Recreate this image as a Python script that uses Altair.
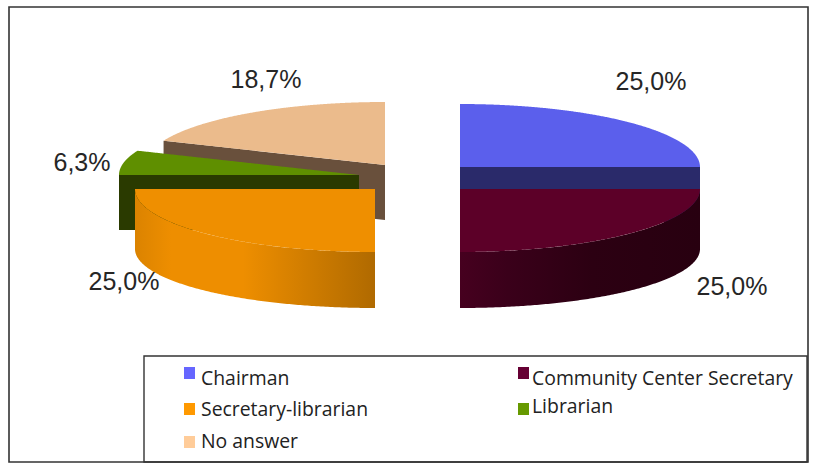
import numpy as np
import pandas as pd
import altair as alt

# Survey shares, clockwise from twelve o'clock
categories = ["Chairman", "Community Center Secretary", "Secretary-librarian", "Librarian", "No answer"]
shares = [25.0, 25.0, 25.0, 6.3, 18.7]
share_labels = ["25,0%", "25,0%", "25,0%", "6,3%", "18,7%"]
top_colors = ["#5B5FEC", "#5C0028", "#EF8F00", "#5F8F00", "#EBBB8C"]
cut_colors = ["#2A2A6A", "#3A001A", "#B06A00", "#2A3A00", "#69503C"]
swatch_colors = ["#6666FF", "#660033", "#FF9900", "#669900", "#FFCC99"]

# Exploded slice apex in chart pixels, ellipse radii and extrusion
apex_x = [460, 460, 375, 359, 385]
apex_y = [167, 189, 189, 175, 165]
radius_x, radius_y = 240, 63
base_radius_y, base_drop, cut_depth = 59, 60, 55

label_x = [651, 732, 124, 82, 266]
label_y = [82, 287, 282, 163, 80]
legend_x = [184, 518, 184, 518, 184]
legend_y = [373, 373, 409, 409, 442]
legend_text_y = [379, 379, 410, 407, 442]

edges = np.concatenate([[0], np.cumsum(shares)]) / 100 * 2 * np.pi

X = alt.X("x:Q", scale=alt.Scale(domain=[0, 833], nice=False), axis=None)
Y = alt.Y("y:Q", scale=alt.Scale(domain=[476, 0], nice=False), axis=None)


def rim(i, t):
    return apex_x[i] + radius_x * np.sin(t), apex_y[i] - radius_y * np.cos(t)


def span_frame(vx, vy):
    """Upper and lower envelope of a closed convex outline, sampled along x."""
    xs = np.unique(np.concatenate([vx, np.linspace(min(vx), max(vx), 240)]))
    tops, bottoms = [], []
    for x in xs:
        hits = []
        for k in range(len(vx)):
            x0, y0, x1, y1 = vx[k], vy[k], vx[(k + 1) % len(vx)], vy[(k + 1) % len(vx)]
            if min(x0, x1) - 1e-9 <= x <= max(x0, x1) + 1e-9:
                if abs(x1 - x0) < 1e-9:
                    hits += [y0, y1]
                else:
                    hits.append(y0 + (y1 - y0) * (x - x0) / (x1 - x0))
        tops.append(min(hits))
        bottoms.append(max(hits))
    return pd.DataFrame({"x": xs, "y": tops, "y2": bottoms})


def area(frame, color):
    return alt.Chart(frame).mark_area(color=color, opacity=1).encode(X, Y, y2="y2:Q")


def top_face(i):
    t = np.linspace(edges[i], edges[i + 1], 120)
    rx, ry = rim(i, t)
    vx = np.concatenate([[apex_x[i]], rx])
    vy = np.concatenate([[apex_y[i]], ry])
    return area(span_frame(vx, vy), top_colors[i])


def outer_wall(i, color):
    t = np.linspace(edges[i], edges[i + 1], 160)
    rx, ry = rim(i, t)
    base = apex_y[i] + base_drop - base_radius_y * np.cos(t)
    frame = pd.DataFrame({"x": rx, "y": ry, "y2": base}).sort_values("x")
    return area(frame, color)


def cut_wall(i, angle):
    rx, ry = rim(i, angle)
    frame = pd.DataFrame({
        "x": [rx, apex_x[i]] if rx < apex_x[i] else [apex_x[i], rx],
        "y": [ry, apex_y[i]] if rx < apex_x[i] else [apex_y[i], ry],
    })
    frame["y2"] = frame["y"] + cut_depth
    return area(frame, cut_colors[i])


def ramp(stops):
    return alt.Gradient(
        gradient="linear",
        stops=[alt.GradientStop(color=c, offset=o) for c, o in stops],
        x1=0, x2=1, y1=0, y2=0,
    )


frame_box = pd.DataFrame({"x": [9], "x2": [808], "y": [7], "y2": [462]})
legend_box = pd.DataFrame({"x": [144], "x2": [807], "y": [356], "y2": [462]})


def box(frame, width):
    return alt.Chart(frame).mark_rect(fillOpacity=0, stroke="#333333", strokeWidth=width).encode(
        X, Y, x2="x2:Q", y2="y2:Q"
    )


labels = pd.DataFrame({"x": label_x, "y": label_y, "text": share_labels})
legend = pd.DataFrame({
    "x": legend_x, "y": legend_y, "text_y": legend_text_y, "name": categories, "color": swatch_colors,
})
legend["text_x"] = [v + (17 if v < 300 else 14) for v in legend_x]
legend["x0"], legend["x1"] = legend["x"], legend["x"] + 11
legend["y0"], legend["y1"] = legend["y"] - 6, legend["y"] + 6

orange_ramp = ramp([("#DB8300", 0), ("#EE8E00", 0.15), ("#EE8E00", 0.45), ("#B06A00", 1)])
maroon_ramp = ramp([("#46001F", 0), ("#3A001A", 0.2), ("#2C0012", 0.55), ("#280010", 1)])

layers = [
    box(frame_box, 1.6),
    # back slices first, front slices over them
    cut_wall(4, edges[4]),
    top_face(4),
    cut_wall(3, edges[3]),
    top_face(3),
    outer_wall(2, orange_ramp),
    top_face(2),
    cut_wall(0, edges[1]),
    top_face(0),
    outer_wall(1, maroon_ramp),
    top_face(1),
    alt.Chart(labels).mark_text(font="Liberation Sans", fontSize=25, color="#262626").encode(X, Y, text="text:N"),
    box(legend_box, 1.4),
    alt.Chart(legend).mark_rect().encode(
        alt.X("x0:Q", scale=alt.Scale(domain=[0, 833], nice=False), axis=None),
        alt.Y("y0:Q", scale=alt.Scale(domain=[476, 0], nice=False), axis=None),
        x2="x1:Q",
        y2="y1:Q",
        color=alt.Color("color:N", scale=None),
    ),
    alt.Chart(legend).mark_text(font="Open Sans", fontSize=19.4, align="left", color="#222222").encode(
        alt.X("text_x:Q", scale=alt.Scale(domain=[0, 833], nice=False), axis=None),
        alt.Y("text_y:Q", scale=alt.Scale(domain=[476, 0], nice=False), axis=None),
        text="name:N",
    ),
]

chart = (
    alt.layer(*layers)
    .properties(width=833, height=476, padding=0, autosize="none", background="white")
    .configure_view(strokeWidth=0)
)

chart.save("out.html", embed_options={"renderer": "svg", "actions": False})
